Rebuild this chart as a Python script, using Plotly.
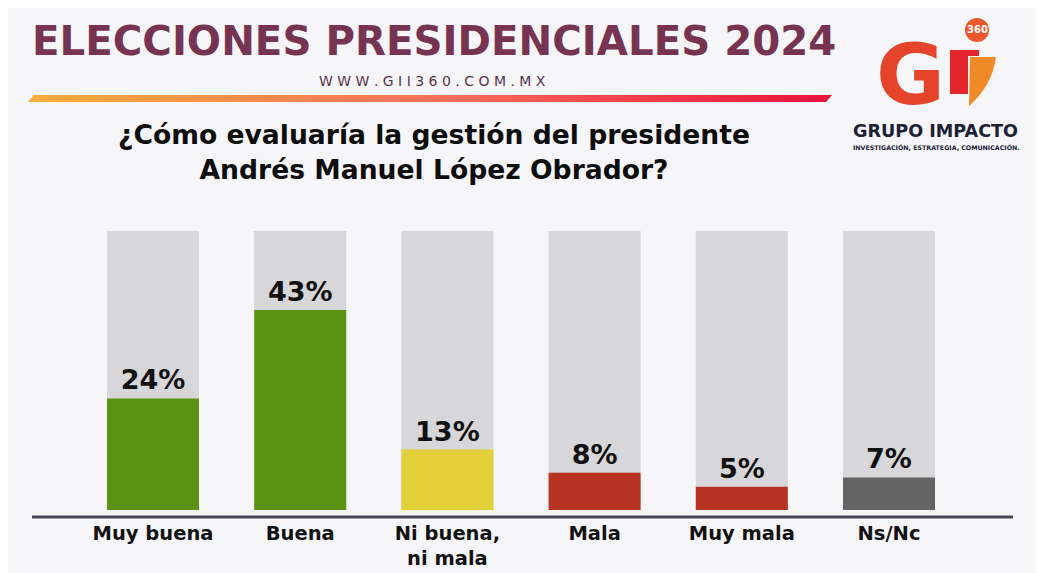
import plotly.graph_objects as go

# The page is drawn with an 8px body margin: layout is written in screen
# pixels and converted to figure coordinates.
OX, OY = 8, 8
FW, FH = 1044, 573

# ---- data ----
categories = ["Muy buena", "Buena", "Ni buena,<br>ni mala", "Mala", "Muy mala", "Ns/Nc"]
values = [24, 43, 13, 8, 5, 7]
value_labels = ["24%", "43%", "13%", "8%", "5%", "7%"]
background_values = [60, 60, 60, 60, 60, 60]
bar_colors = ["#5a9211", "#5a9211", "#e4d038", "#b83224", "#b83224", "#646464"]

title_text = "ELECCIONES PRESIDENCIALES 2024"
url_text = "WWW.GII360.COM.MX"
question_text = "¿Cómo evaluaría la gestión del presidente<br>Andrés Manuel López Obrador?"
brand_text = "GRUPO IMPACTO"
tagline_text = "INVESTIGACIÓN, ESTRATEGIA, COMUNICACIÓN."

FONT = "DejaVu Sans"


def px(x):
    return (x - OX) / FW


def py(y):
    return 1 - (y - OY) / FH


fig = go.Figure()

fig.add_trace(go.Bar(
    x=categories, y=background_values, width=0.625,
    marker=dict(color="#d7d6d9", line=dict(width=0)),
    hoverinfo="skip", showlegend=False,
))
fig.add_trace(go.Bar(
    x=categories, y=values, width=0.625,
    marker=dict(color=bar_colors, line=dict(width=0)),
    text=value_labels, textposition="outside", cliponaxis=False,
    textfont=dict(family=FONT, size=27, color="#111111", weight="bold"),
    hoverinfo="skip", showlegend=False,
))

# gradient rule under the title (decoration, screen-pixel frame)
fig.add_trace(go.Scatter(
    x=[28, 34, 832, 826, 28], y=[102, 95, 95, 102, 102],
    xaxis="x2", yaxis="y2", mode="lines", line=dict(width=0),
    fill="toself",
    fillgradient=dict(type="horizontal",
                      colorscale=[[0, "#f9ac3b"], [0.5, "#f7725a"], [1, "#e8113b"]]),
    hoverinfo="skip", showlegend=False,
))

shapes = [
    # baseline
    dict(type="line", xref="x2", yref="y2", x0=32, x1=1013, y0=517, y1=517,
         line=dict(color="#4b4656", width=3)),
    # logo pieces
    dict(type="circle", xref="x2", yref="y2", x0=965, x1=989, y0=18, y1=42,
         fillcolor="#ea582c", line=dict(width=0)),
    dict(type="rect", xref="x2", yref="y2", x0=950, x1=979, y0=50, y1=56,
         fillcolor="#e3262d", line=dict(width=0)),
    dict(type="rect", xref="x2", yref="y2", x0=950, x1=968, y0=50, y1=94,
         fillcolor="#e3262d", line=dict(width=0)),
    dict(type="path", xref="x2", yref="y2",
         path="M 970,57 L 996,57 Q 992,86 969,106 Z",
         fillcolor="#f08a28", line=dict(width=0)),
]

annotations = [
    dict(text=title_text, x=px(30), y=py(42), xref="paper", yref="paper",
         xanchor="left", yanchor="middle", showarrow=False,
         font=dict(family=FONT, size=40.3, color="#763352", weight="bold")),
    dict(text=" ".join(url_text), x=px(432), y=py(81), xref="paper", yref="paper",
         xanchor="center", yanchor="middle", showarrow=False,
         font=dict(family=FONT, size=14, color="#58344a")),
    dict(text=question_text, x=px(434), y=py(152), xref="paper", yref="paper",
         xanchor="center", yanchor="middle", showarrow=False,
         font=dict(family=FONT, size=26.6, color="#0d0d0d", weight="bold")),
    dict(text="G", x=px(910), y=py(75), xref="paper", yref="paper",
         xanchor="center", yanchor="middle", showarrow=False,
         font=dict(family=FONT, size=84, color="#e6432b", weight="bold")),
    dict(text="360", x=px(977), y=py(30), xref="paper", yref="paper",
         xanchor="center", yanchor="middle", showarrow=False,
         font=dict(family=FONT, size=10, color="#ffffff", weight="bold")),
    dict(text=brand_text, x=px(935), y=py(131), xref="paper", yref="paper",
         xanchor="center", yanchor="middle", showarrow=False,
         font=dict(family=FONT, size=17.6, color="#1c2136", weight="bold")),
    dict(text=tagline_text, x=px(936), y=py(147), xref="paper", yref="paper",
         xanchor="center", yanchor="middle", showarrow=False,
         font=dict(family=FONT, size=6.3, color="#1c2136", weight="bold")),
]

fig.update_layout(
    width=FW, height=FH,
    margin=dict(l=0, r=0, t=0, b=0),
    paper_bgcolor="#f6f6f8",
    plot_bgcolor="rgba(0,0,0,0)",
    barmode="overlay",
    showlegend=False,
    xaxis=dict(domain=[px(79.4), px(962.6)], type="category", range=[-0.5, 5.5],
               showgrid=False, zeroline=False, showline=False, ticks="",
               ticklabelstandoff=9,
               tickfont=dict(family=FONT, size=19.5, color="#111111", weight="bold"),
               fixedrange=True),
    yaxis=dict(domain=[py(510), py(231)], range=[0, 60], visible=False, fixedrange=True),
    xaxis2=dict(domain=[0, 1], anchor="y2", range=[OX, OX + FW], visible=False,
                fixedrange=True),
    yaxis2=dict(domain=[0, 1], anchor="x2", range=[OY + FH, OY], visible=False,
                fixedrange=True),
    shapes=shapes,
    annotations=annotations,
)

fig.write_html("out.html")
